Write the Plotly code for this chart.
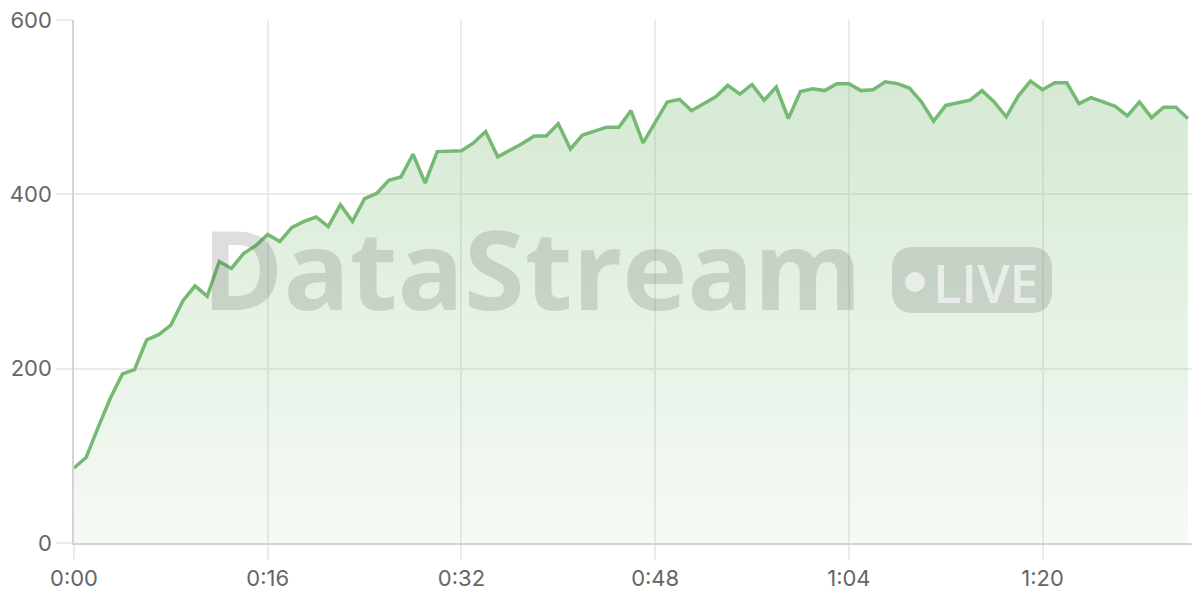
import plotly.graph_objects as go

# ---- data ----
seconds = list(range(93))
values = [
    86, 98, 133, 166, 194, 199, 233, 239, 250, 278,
    295, 283, 323, 315, 332, 341, 354, 346, 362, 369,
    374, 363, 388, 369, 395, 401, 416, 420, 446, 413,
    449, 449, 450, 459, 472, 443, 450, 458, 467, 467,
    481, 452, 468, 472, 477, 477, 496, 459, 483, 506,
    509, 496, 504, 512, 525, 515, 526, 508, 523, 487,
    518, 521, 519, 527, 527, 519, 520, 529, 527, 522,
    506, 484, 502, 505, 508, 519, 506, 489, 513, 530,
    520, 528, 528, 504, 511, 506, 501, 490, 506, 488,
    500, 500, 487,
]
x_tick_vals = [0, 16, 32, 48, 64, 80]
x_tick_text = ["0:00", "0:16", "0:32", "0:48", "1:04", "1:20"]
y_tick_vals = [0, 200, 400, 600]

LINE = "rgb(118,185,114)"
GRID = "#ebebeb"
AXIS = "#d4d4d4"
TICKFONT = dict(family="Inter, Roboto, sans-serif", size=22, color="#666666")

fig = go.Figure()
fig.add_trace(go.Scatter(
    x=seconds, y=values, mode="lines",
    line=dict(color=LINE, width=3.5),
    fill="tozeroy",
    fillgradient=dict(
        type="vertical",
        start=0, stop=max(values),
        colorscale=[[0, "rgba(118,185,114,0.07)"], [1, "rgba(118,185,114,0.31)"]],
    ),
    hoverinfo="skip",
))

# ---- watermark (decoration, paper coords; page pixel -> paper) ----
def px_x(p):
    return (p - 74) / 1126.0

def px_y(p):
    return (543 - p) / 523.0

WM = "rgba(90,90,90,0.2)"
fig.add_annotation(
    text="<b>DataStream</b>", xref="paper", yref="paper",
    x=px_x(532), y=px_y(267), xanchor="center", yanchor="middle",
    showarrow=False,
    font=dict(family="Open Sans, sans-serif", size=110, color=WM),
)

x0, x1, y0, y1 = 892, 1052, 247, 313
r = 22
def P(a, b):
    return f"{px_x(a):.5f},{px_y(b):.5f}"
path = (
    f"M {P(x0 + r, y0)} L {P(x1 - r, y0)} Q {P(x1, y0)} {P(x1, y0 + r)} "
    f"L {P(x1, y1 - r)} Q {P(x1, y1)} {P(x1 - r, y1)} "
    f"L {P(x0 + r, y1)} Q {P(x0, y1)} {P(x0, y1 - r)} "
    f"L {P(x0, y0 + r)} Q {P(x0, y0)} {P(x0 + r, y0)} Z"
)
fig.add_shape(type="path", path=path, xref="paper", yref="paper",
              fillcolor=WM, line=dict(width=0), layer="above")
fig.add_shape(type="circle", xref="paper", yref="paper",
              x0=px_x(905), x1=px_x(925), y0=px_y(292), y1=px_y(272),
              fillcolor="rgba(255,255,255,0.6)", line=dict(width=0), layer="above")
fig.add_annotation(
    text="LIVE", xref="paper", yref="paper",
    x=px_x(986), y=px_y(282), xanchor="center", yanchor="middle",
    showarrow=False,
    font=dict(family="Open Sans, sans-serif", size=52, weight=600,
              color="rgba(255,255,255,0.6)"),
)

fig.update_layout(
    width=1200, height=600,
    margin=dict(l=66, r=8, t=12, b=65),
    paper_bgcolor="white", plot_bgcolor="white",
    showlegend=False,
    xaxis=dict(
        range=[0, 93], tickvals=x_tick_vals, ticktext=x_tick_text,
        showgrid=True, gridcolor=GRID, gridwidth=1.5,
        showline=True, linecolor=AXIS, linewidth=1.5,
        ticks="outside", ticklen=15, tickcolor=GRID, tickwidth=1.5,
        tickfont=TICKFONT, zeroline=False, automargin=False,
        ticklabeloverflow="allow",
    ),
    yaxis=dict(
        range=[0, 600], tickvals=y_tick_vals,
        showgrid=True, gridcolor=GRID, gridwidth=1.5,
        showline=True, linecolor=AXIS, linewidth=1.5,
        ticks="outside", ticklen=16, tickcolor=GRID, tickwidth=1.5,
        tickfont=TICKFONT, zeroline=False, automargin=False,
        ticklabeloverflow="allow",
    ),
)

fig.write_html("out.html")
